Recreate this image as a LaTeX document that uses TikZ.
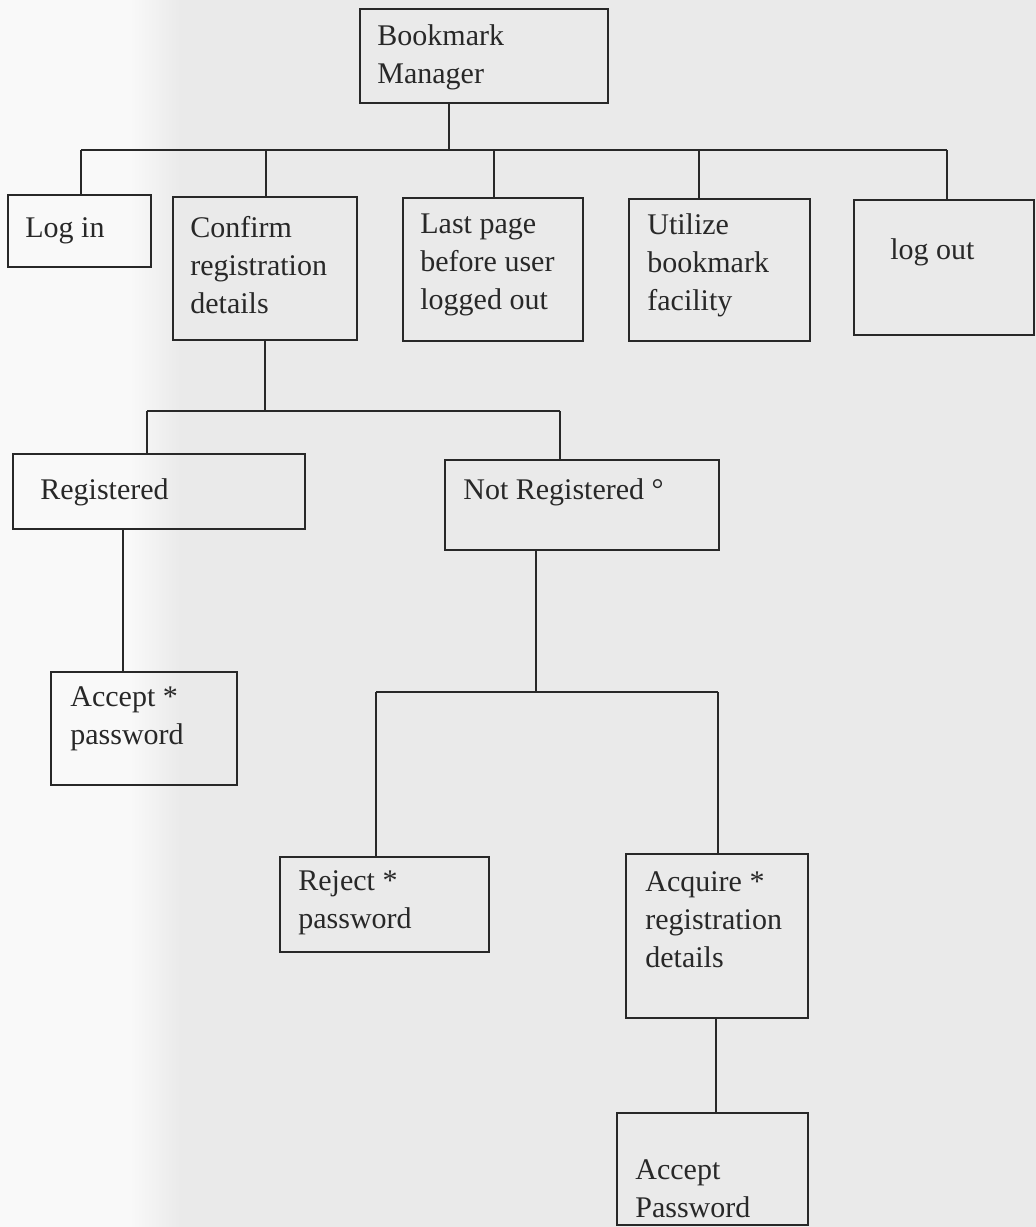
\documentclass[tikz,border=0pt]{standalone}
\usepackage{fontspec}
\setmainfont{Liberation Serif}
\begin{document}
\definecolor{paper}{RGB}{234,234,234}
\definecolor{paperlight}{RGB}{249,249,249}
\definecolor{ink}{RGB}{40,40,40}
\tikzset{
  box/.style 2 args={draw=ink, line width=1pt, rectangle, anchor=north west,
    inner sep=0pt, outer sep=0pt, minimum width=#1*0.5pt, minimum height=#2*0.5pt},
  lbl/.style={anchor=west, inner sep=0pt, align=left, text=ink,
    font=\fontsize{15}{19}\selectfont},
  wire/.style={draw=ink, line width=0.9pt}
}
\begin{tikzpicture}[x=0.5pt,y=-0.5pt]
  % paper
  \useasboundingbox (0,0) rectangle (1036,1227);
  \fill[paper] (0,0) rectangle (1036,1227);
  \fill[paperlight] (0,0) rectangle (130,1227);
  \shade[left color=paperlight, right color=paper] (130,0) rectangle (180,1227);

  % boxes
  \node[box={248}{94}]  (bm)      at (360,9)    {};
  \node[box={143}{72}]  (login)   at (8,195)    {};
  \node[box={184}{143}] (confirm) at (173,197)  {};
  \node[box={180}{143}] (last)    at (403,198)  {};
  \node[box={181}{142}] (util)    at (629,199)  {};
  \node[box={180}{135}] (logout)  at (854,200)  {};
  \node[box={292}{75}]  (reg)     at (13,454)   {};
  \node[box={274}{90}]  (notreg)  at (445,460)  {};
  \node[box={186}{113}] (acc)     at (51,672)   {};
  \node[box={209}{95}]  (reject)  at (280,857)  {};
  \node[box={182}{164}] (acquire) at (626,854)  {};
  \node[box={191}{112}] (accpw)   at (617,1113) {};

  % labels
  \node[lbl] (tbm)      at (377,57)   {Bookmark\\Manager};
  \node[lbl] (tlogin)   at (25,231)   {Log in};
  \node[lbl] (tconfirm) at (190,265)  {Confirm\\registration\\details};
  \node[lbl] (tlast)    at (420,265)  {Last page\\before user\\logged out};
  \node[lbl] (tutil)    at (647,265)  {Utilize\\bookmark\\facility};
  \node[lbl] (tlogout)  at (890,252)  {log out};
  \node[lbl] (treg)     at (40,492)   {Registered};
  \node[lbl] (tnotreg)  at (463,492)  {Not Registered °};
  \node[lbl] (tacc)     at (70,719)   {Accept *\\password};
  \node[lbl] (treject)  at (298,903)  {Reject *\\password};
  \node[lbl] (tacquire) at (645,920)  {Acquire *\\registration\\details};
  \node[lbl] (taccpw)   at (635,1189) {Accept\\Password};

  % junction points of the tree
  \coordinate (j0) at (449,150);
  \coordinate (bl) at (81,150);
  \coordinate (br) at (947,150);
  \coordinate (j1) at (266,150);
  \coordinate (j2) at (494,150);
  \coordinate (j3) at (699,150);
  \coordinate (k0) at (265,411);
  \coordinate (kl) at (147,411);
  \coordinate (kr) at (560,411);
  \coordinate (m0) at (536,692);
  \coordinate (ml) at (376,692);
  \coordinate (mr) at (718,692);

  % first level
  \draw[wire] (bm.south -| j0) -- (j0);
  \draw[wire] (bl) -- (br);
  \draw[wire] (bl) -- (login.north -| bl);
  \draw[wire] (j1) -- (confirm.north -| j1);
  \draw[wire] (j2) -- (last.north -| j2);
  \draw[wire] (j3) -- (util.north -| j3);
  \draw[wire] (br) -- (logout.north -| br);

  % registration branch
  \draw[wire] (confirm.south -| k0) -- (k0);
  \draw[wire] (kl) -- (kr);
  \draw[wire] (kl) -- (reg.north -| kl);
  \draw[wire] (kr) -- (notreg.north -| kr);
  \draw[wire] (reg.south -| 123,0) -- (acc.north -| 123,0);

  % not registered branch
  \draw[wire] (notreg.south -| m0) -- (m0);
  \draw[wire] (ml) -- (mr);
  \draw[wire] (ml) -- (reject.north -| ml);
  \draw[wire] (mr) -- (acquire.north -| mr);
  \draw[wire] (acquire.south -| 716,0) -- (accpw.north -| 716,0);
\end{tikzpicture}
\end{document}
